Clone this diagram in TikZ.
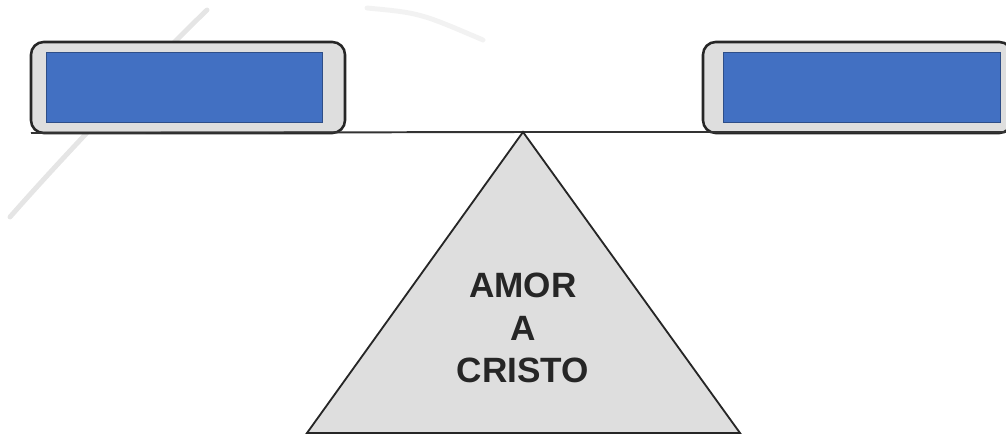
\documentclass[tikz,border=0pt]{standalone}
\usepackage{fontspec}
\setmainfont{Liberation Sans}
\usepackage{tikz}
\definecolor{panelblue}{RGB}{66,112,194}
\definecolor{framegray}{RGB}{222,222,222}
\definecolor{wedgegray}{RGB}{222,222,222}
\tikzset{
  frame/.style={draw=black!85,line width=1.8pt,fill=framegray,rounded corners=9pt},
  panel/.style={draw=panelblue!70!black,line width=0.5pt,fill=panelblue},
  beam/.style={draw=black!80,line width=1.4pt},
  wedge/.style={draw=black!85,line width=1.3pt,fill=wedgegray,line join=miter},
  wedgetext/.style={font=\fontsize{25}{30}\selectfont\bfseries,align=center,text=black!85},
  smudge/.style={black!10,line width=3.5pt,line cap=round}
}

\begin{document}
\begin{tikzpicture}[x=0.025cm,y=0.025cm]
        \useasboundingbox (0,0) rectangle (1006,435);
        % faint watermark strokes
        \draw[smudge] (10,218) .. controls (60,275) and (150,370) .. (207,425);
        \draw[smudge,black!5] (367,427) .. controls (420,422) .. (483,395);
        \coordinate(L1) at (31,302);
        \coordinate(L2) at (345,393);
        \coordinate(R1) at (703,302);
        \coordinate(R2) at (1012,393);
        \coordinate(top) at (523,303);
        \coordinate(bl) at (307,2);
        \coordinate(br) at (740,2);
        \draw[frame] (L1) rectangle (L2);
        \draw[panel] (46,313) rectangle (322,383);
        \draw[frame] (R1) rectangle (R2);
        \draw[panel] (723,313) rectangle (1000,383);
        \draw[beam] (L1)--(top)--(1006,303);
        \draw[wedge] (top)--(br)--(bl)--cycle;
        \node[wedgetext] (lbl) at (523,107) {AMOR\\A\\CRISTO};
    \end{tikzpicture}
\end{document}
